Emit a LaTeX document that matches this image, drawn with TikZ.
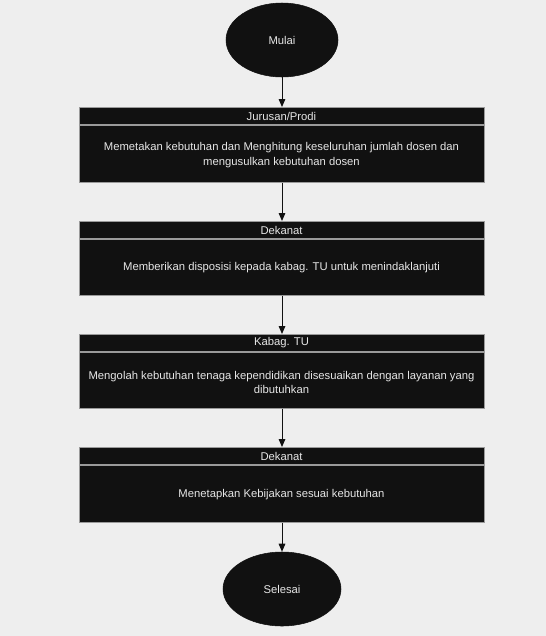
\documentclass[tikz,border=0pt]{standalone}
\usepackage{fontspec}
\setmainfont{Liberation Sans}
\usetikzlibrary{shapes.geometric,arrows.meta}
\definecolor{bg}{HTML}{EEEEEE}
\definecolor{boxfill}{HTML}{111111}
\definecolor{boxline}{HTML}{9A9A9A}
\definecolor{txt}{HTML}{E6E6E6}
\tikzset{
  terminal/.style={ellipse,fill=boxfill,draw=boxfill,inner sep=0pt,text=txt,font=\fontsize{8.45}{10}\selectfont},
  lane/.style={rectangle,fill=boxfill,draw=boxline,line width=0.6pt,inner sep=0pt},
  lanehead/.style={text=txt,font=\fontsize{8.45}{10}\selectfont},
  lanetext/.style={text=txt,font=\fontsize{8.45}{11}\selectfont,align=center},
  flow/.style={draw=boxfill,line width=0.7pt,-{Triangle[length=6pt,width=5pt]}},
}
\begin{document}
\begin{tikzpicture}[x=0.75pt,y=-0.75pt]
\fill[bg] (0,0) rectangle (546,636);
\useasboundingbox (0,0) rectangle (546,636);
% start
\node[terminal,minimum width=84pt,minimum height=55.5pt] (start) at (282,40) {\raisebox{-1pt}{Mulai}};
% box 1
\node[lane,minimum width=303.75pt,minimum height=56.25pt,anchor=north west] (b1) at (79,107) {};
\draw[boxline,line width=1.2pt] (79,125) -- (484,125);
\node[lanehead] (h1) at (281.5,116.5) {Jurusan/Prodi};
\node[lanetext] (t1) at (281.5,155) {Memetakan kebutuhan dan Menghitung keseluruhan jumlah dosen dan\\mengusulkan kebutuhan dosen};
% box 2
\node[lane,minimum width=303.75pt,minimum height=55.5pt,anchor=north west] (b2) at (79,221) {};
\draw[boxline,line width=1.2pt] (79,239) -- (484,239);
\node[lanehead] (h2) at (281.5,230) {Dekanat};
\node[lanetext] (t2) at (281.5,268) {Memberikan disposisi kepada kabag. TU untuk menindaklanjuti};
% box 3
\node[lane,minimum width=303.75pt,minimum height=55.5pt,anchor=north west] (b3) at (79,334) {};
\draw[boxline,line width=1.2pt] (79,352) -- (484,352);
\node[lanehead] (h3) at (281.5,343) {Kabag. TU};
\node[lanetext] (t3) at (281.5,382.5) {Mengolah kebutuhan tenaga kependidikan disesuaikan dengan layanan yang\\dibutuhkan};
% box 4
\node[lane,minimum width=303.75pt,minimum height=56.25pt,anchor=north west] (b4) at (79,447) {};
\draw[boxline,line width=1.2pt] (79,465) -- (484,465);
\node[lanehead] (h4) at (281.5,456.5) {Dekanat};
\node[lanetext] (t4) at (281.5,494.5) {Menetapkan Kebijakan sesuai kebutuhan};
% end
\node[terminal,minimum width=88.5pt,minimum height=55.5pt] (stop) at (282,589) {\raisebox{-1pt}{Selesai}};
% connectors
\draw[flow] (start.south) -- (start.south |- b1.north);
\draw[flow] (b1.south -| start) -- (b2.north -| start);
\draw[flow] (b2.south -| start) -- (b3.north -| start);
\draw[flow] (b3.south -| start) -- (b4.north -| start);
\draw[flow] (b4.south -| start) -- (stop.north);
\end{tikzpicture}
\end{document}
